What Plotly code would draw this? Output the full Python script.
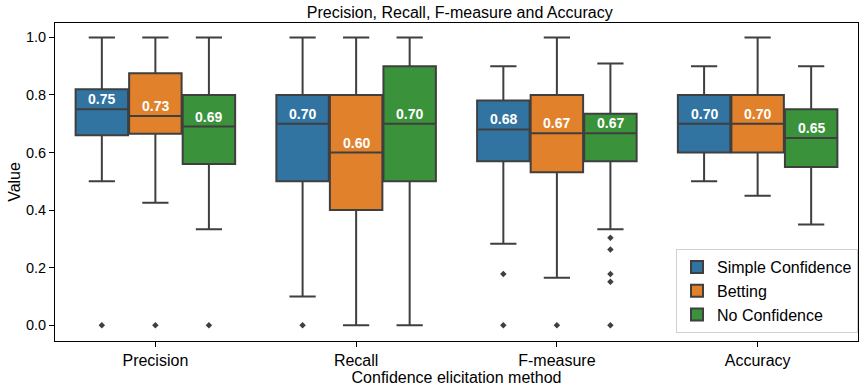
import plotly.graph_objects as go

categories = ["Precision", "Recall", "F-measure", "Accuracy"]
methods = ["Simple Confidence", "Betting", "No Confidence"]
colors = ["#3274a1", "#e1812c", "#3a923a"]

# per method: values for each category
lower = {
    "Simple Confidence": [0.50, 0.10, 0.283, 0.50],
    "Betting":           [0.425, 0.0, 0.165, 0.45],
    "No Confidence":     [0.333, 0.0, 0.333, 0.35],
}
q1 = {
    "Simple Confidence": [0.66, 0.50, 0.57, 0.60],
    "Betting":           [0.665, 0.40, 0.531, 0.60],
    "No Confidence":     [0.56, 0.50, 0.57, 0.55],
}
median = {
    "Simple Confidence": [0.75, 0.70, 0.68, 0.70],
    "Betting":           [0.727, 0.60, 0.667, 0.70],
    "No Confidence":     [0.69, 0.70, 0.667, 0.65],
}
q3 = {
    "Simple Confidence": [0.82, 0.80, 0.781, 0.80],
    "Betting":           [0.875, 0.80, 0.80, 0.80],
    "No Confidence":     [0.80, 0.90, 0.735, 0.75],
}
upper = {
    "Simple Confidence": [1.0, 1.0, 0.90, 0.90],
    "Betting":           [1.0, 1.0, 1.0, 1.0],
    "No Confidence":     [1.0, 1.0, 0.909, 0.90],
}
# outliers: list per category
outliers = {
    "Simple Confidence": [[0.0], [0.0], [0.178, 0.0], []],
    "Betting":           [[0.0], [], [0.0], []],
    "No Confidence":     [[0.0], [], [0.304, 0.263, 0.178, 0.151, 0.0], []],
}

group_width = 0.8
n = len(methods)
step = group_width / n
box_w = step * 0.98
edge = "#3f3f3f"

fig = go.Figure()
annotations = []
for h, m in enumerate(methods):
    off = (h - (n - 1) / 2) * step
    xs = [i + off for i in range(len(categories))]
    fig.add_trace(go.Box(
        x=xs, q1=q1[m], median=median[m], q3=q3[m],
        lowerfence=lower[m], upperfence=upper[m],
        width=box_w, whiskerwidth=0.5,
        fillcolor=colors[h], line=dict(color=edge, width=2),
        name=m, boxpoints=False, hoverinfo="skip",
    ))
    ox, oy = [], []
    for i, vals in enumerate(outliers[m]):
        for v in vals:
            ox.append(i + off)
            oy.append(v)
    fig.add_trace(go.Scatter(
        x=ox, y=oy, mode="markers", showlegend=False,
        marker=dict(symbol="diamond", size=5, color=edge),
        hoverinfo="skip",
    ))
    for i, x in enumerate(xs):
        annotations.append(dict(
            x=x, y=median[m][i], text="<b>%.2f</b>" % median[m][i],
            showarrow=False, yanchor="bottom", yshift=0,
            font=dict(color="white", size=14, family="Liberation Sans"),
        ))

fig.update_layout(
    width=859, height=388,
    margin=dict(l=55, r=1, t=23, b=47),
    paper_bgcolor="white", plot_bgcolor="white",
    font=dict(family="Liberation Sans", size=16, color="black"),
    title=dict(text="Precision, Recall, F-measure and Accuracy", xref="paper", x=0.504,
               xanchor="center", yref="container", y=0.967, yanchor="middle",
               font=dict(size=16)),
    annotations=annotations,
    legend=dict(x=1.0, y=0.025, xanchor="right", yanchor="bottom",
                bordercolor="#d0d0d0", borderwidth=1, bgcolor="rgba(255,255,255,0.85)",
                font=dict(size=16), tracegroupgap=0),
    showlegend=True,
)
fig.update_xaxes(
    range=[-0.5, len(categories) - 0.5],
    tickvals=list(range(len(categories))), ticktext=categories,
    tickfont=dict(size=16),
    showline=True, linecolor="black", linewidth=1, mirror=True,
    ticks="outside", ticklen=5, tickcolor="black", showgrid=False, zeroline=False,
    title=dict(text="Confidence elicitation method", font=dict(size=16), standoff=3),
)
fig.update_yaxes(
    range=[-0.055, 1.05], tickvals=[0, 0.2, 0.4, 0.6, 0.8, 1.0], tickformat=".1f",
    tickfont=dict(size=14.5),
    showline=True, linecolor="black", linewidth=1, mirror=True,
    ticks="outside", ticklen=5, tickcolor="black", showgrid=False, zeroline=False,
    title=dict(text="Value", font=dict(size=16), standoff=1),
)

fig.write_html("out.html", config={"displayModeBar": False},
               post_script="document.body.style.margin='0px';")
